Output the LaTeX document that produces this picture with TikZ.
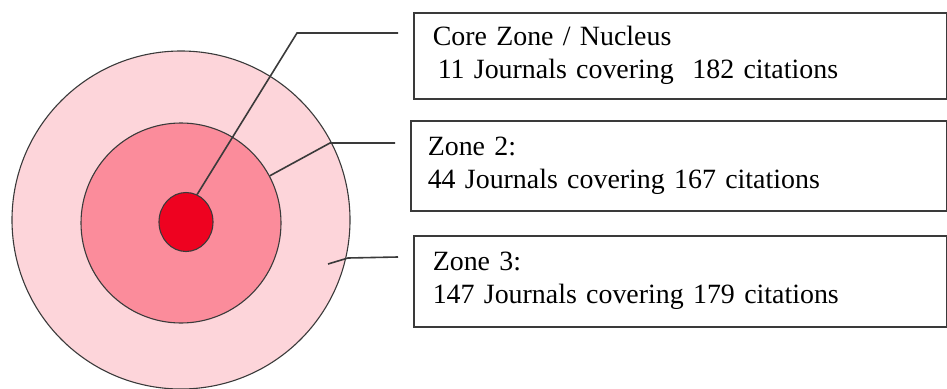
\documentclass[tikz,border=0pt]{standalone}
\usepackage{fontspec}
\setmainfont{Liberation Serif}
\usetikzlibrary{positioning,shapes.geometric}
\definecolor{outerZoneColor}{HTML}{FDD5DA}
\definecolor{middleZoneColor}{HTML}{FB8C9B}
\definecolor{coreZoneColor}{HTML}{EE0220}
\definecolor{lineColor}{HTML}{3A3A3A}

\begin{document}
\begin{tikzpicture}[x=1pt,y=-1pt,%
    every node/.style={font=\fontsize{27.9}{33}\selectfont}]
    \useasboundingbox (0,0) rectangle (947,388);
    \tikzstyle{ring}=[circle,draw=lineColor,line width=1.1pt,inner sep=0pt]
    \tikzstyle{infobox}=[rectangle,draw=lineColor,line width=1.5pt,%
      anchor=north west,align=left,inner sep=0pt,minimum width=533pt]
    \tikzstyle{leader}=[draw=lineColor,line width=1.6pt]
    % All zones
    \node (zoneThree) [ring,fill=outerZoneColor,minimum size=338pt] at (181,220) {};
    \node (zoneTwo) [ring,fill=middleZoneColor,minimum size=200pt] at (181,223) {};
    \node (coreZone) [ring,ellipse,fill=coreZoneColor,%
      minimum width=54pt,minimum height=59pt] at (186,222) {};
    % All boxes
    \node (coreBox) [infobox,minimum height=86pt,text width=495pt] at (413,12)
      {Core Zone / Nucleus\\\hspace*{5pt}11 Journals covering\ \ 182 citations};
    \node (twoBox) [infobox,minimum width=536pt,minimum height=90pt,text width=502pt] at (410,120)
      {Zone 2:\\44 Journals covering 167 citations};
    \node (threeBox) [infobox,minimum height=91pt,text width=495pt] at (413,235)
      {Zone 3:\\147 Journals covering 179 citations};
    % Leaders
    \coordinate (coreBend) at (297,33);
    \coordinate (coreEnd) at (398,33);
    \coordinate (twoBend) at (330,143);
    \coordinate (twoEnd) at (395,143);
    \coordinate (threeStart) at (328,264);
    \coordinate (threeBend) at (348,258);
    \coordinate (threeEnd) at (398,257);
    \draw [leader] (coreZone.68) -- (coreBend) -- (coreEnd);
    \draw [leader] (zoneTwo.28) -- (twoBend) -- (twoEnd);
    \draw [leader] (threeStart) -- (threeBend) -- (threeEnd);
  \end{tikzpicture}
\end{document}
